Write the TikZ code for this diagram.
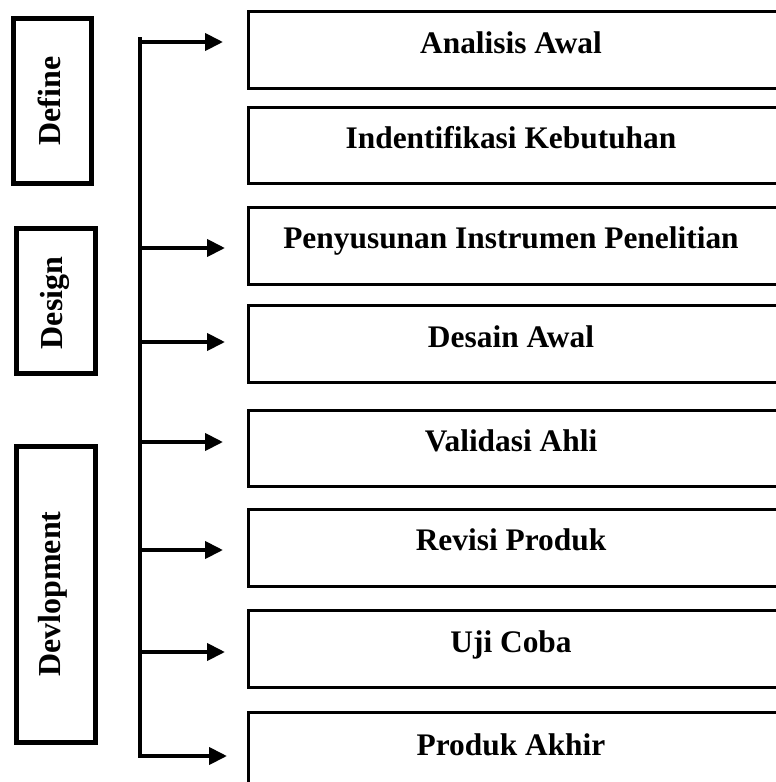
\documentclass[tikz,border=0pt]{standalone}
\usepackage{fontspec}
\setmainfont{Liberation Serif}
\usepackage{tikz}
\usetikzlibrary{arrows.meta}

\tikzset{
    judul/.style={font=\bfseries\fontsize{15.7}{19}\selectfont, anchor=base, inner sep=0pt},
    tahap/.style={judul, font=\bfseries\fontsize{16}{19}\selectfont, rotate=90},
    kotak/.style={draw, line width=1.5pt},
    kotaktahap/.style={draw, line width=2.5pt},
    panah/.style={line width=2pt, -{Triangle[length=9pt,width=8.5pt]}}
}

\begin{document}
\begin{tikzpicture}[x=0.5pt, y=-0.5pt]
        \useasboundingbox (0,0) rectangle (776,782);

        % Boxes of the phases
        \draw[kotaktahap] (13,18) rectangle (91,183);
        \draw[kotaktahap] (16,228) rectangle (95,373);
        \draw[kotaktahap] (16,446) rectangle (95,742);

        % Names of phases
        \draw (60,101) node[tahap] (define) {Define};
        \draw (62,303) node[tahap] (design) {Design};
        \draw (61,594) node[tahap] (devlopment) {Devlopment};

        % Boxes of the steps (right side runs off the page)
        \draw[kotak] (248,11) rectangle (800,88);
        \draw[kotak] (248,107) rectangle (800,183);
        \draw[kotak] (248,207) rectangle (800,284);
        \draw[kotak] (248,305) rectangle (800,382);
        \draw[kotak] (248,410) rectangle (800,486);
        \draw[kotak] (248,509) rectangle (800,586);
        \draw[kotak] (248,610) rectangle (800,687);
        \draw[kotak] (248,712) rectangle (800,800);

        % Names of steps
        \draw (511,53) node[judul] (analisis) {Analisis Awal};
        \draw (511,148) node[judul] (kebutuhan) {Indentifikasi Kebutuhan};
        \draw (511,248) node[judul] (instrumen) {Penyusunan Instrumen Penelitian};
        \draw (511,347) node[judul] (desain) {Desain Awal};
        \draw (511,451) node[judul] (validasi) {Validasi Ahli};
        \draw (511,550) node[judul] (revisi) {Revisi Produk};
        \draw (511,652) node[judul] (ujicoba) {Uji Coba};
        \draw (511,755) node[judul] (akhir) {Produk Akhir};

        % Spine and its ends
        \coordinate (atas) at (140,37);
        \coordinate (bawah) at (140,758);
        \draw[line width=2.2pt] (atas) -- (bawah);

        % Arrows from the spine
        \coordinate (s1) at (140,42);  \coordinate (t1) at (223,42);
        \coordinate (s2) at (140,248); \coordinate (t2) at (225,248);
        \coordinate (s3) at (140,342); \coordinate (t3) at (225,342);
        \coordinate (s4) at (140,442); \coordinate (t4) at (223,442);
        \coordinate (s5) at (140,550); \coordinate (t5) at (223,550);
        \coordinate (s6) at (140,652); \coordinate (t6) at (225,652);
        \coordinate (s7) at (140,756); \coordinate (t7) at (227,756);
        \draw[panah] (s1) -- (t1);
        \draw[panah] (s2) -- (t2);
        \draw[panah] (s3) -- (t3);
        \draw[panah] (s4) -- (t4);
        \draw[panah] (s5) -- (t5);
        \draw[panah] (s6) -- (t6);
        \draw[panah] (s7) -- (t7);
    \end{tikzpicture}
\end{document}
